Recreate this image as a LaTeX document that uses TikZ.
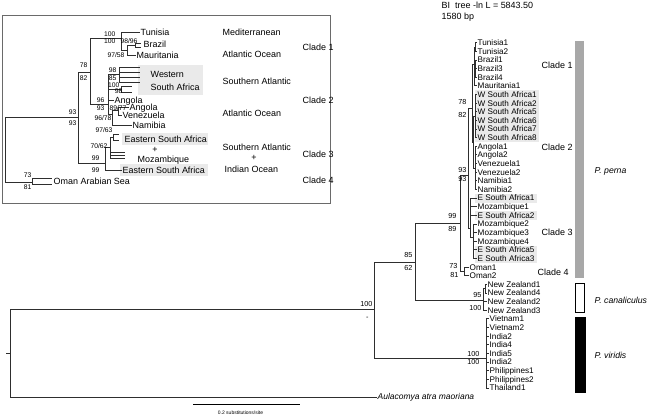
\documentclass[tikz,border=0pt]{standalone}
\usepackage{fontspec}
\setmainfont{Liberation Sans}
\usetikzlibrary{positioning}
\definecolor{cBar}{HTML}{A8A8A8}
\definecolor{cHi}{HTML}{EAEAEA}
\definecolor{cLine}{HTML}{2E2E2E}
\definecolor{cFrame}{HTML}{6A6A6A}

\begin{document}
\begin{tikzpicture}[x=1bp, y=-1bp,
  br/.style={draw=cLine, line width=0.8bp},
  tip/.style={anchor=west, inner sep=0.5bp, text height=5.9bp, text depth=0bp, font=\fontsize{8.2}{9}\selectfont},
  itip/.style={anchor=west, inner sep=0.5bp, text height=6.5bp, text depth=0bp, font=\fontsize{9}{10}\selectfont},
  spc/.style={itip, font=\fontsize{8.7}{10}\selectfont\itshape},
  bs/.style={anchor=east, inner sep=0.3bp, text height=5.3bp, text depth=0bp, font=\fontsize{7.3}{8}\selectfont},
  ibs/.style={bs, text height=4.9bp, font=\fontsize{6.8}{7}\selectfont},
  hi/.style={fill=cHi, draw=none}
]
\useasboundingbox (0,0) rectangle (650,417);

% ---------- main tree ----------
\node[itip] (hdr) at (441,5.5) {BI\ \ tree -ln L = 5843.50};
\node[itip] (hdrbp) at (441,16.5) {1580 bp};

\fill[hi] (475,90) rectangle (539,142);
\fill[hi] (475,193.5) rectangle (537,202.5);
\fill[hi] (475,211) rectangle (537,219.5);
\fill[hi] (475,245.5) rectangle (537,263);

\coordinate (rs) at (6,353);
\coordinate (r) at (10,353);
\coordinate (nIng) at (374,309.5);
\coordinate (nPC) at (415,262);
\coordinate (nPerna) at (460,223);
\coordinate (nC123) at (468,175);
\coordinate (nC12) at (472,108);
\coordinate (nC1) at (474,64);
\coordinate (nTun) at (475.5,47);
\coordinate (nBra) at (475.5,68.6);
\coordinate (nC2) at (473.5,142);
\coordinate (nWSA) at (475,116);
\coordinate (nAVN) at (475,168);
\coordinate (nC3) at (470,228);
\coordinate (nMoz) at (473,237);
\coordinate (nOman) at (464,271.4);
\coordinate (nNZ) at (483,300);
\coordinate (nNZa) at (485,288.6);
\coordinate (nVir) at (486,358);

\foreach \i/\lab in {0/Tunisia1,1/Tunisia2,2/Brazil1,3/Brazil3,4/Brazil4,5/Mauritania1,
  6/W South Africa1,7/W South Africa2,8/W South Africa5,9/W South Africa6,10/W South Africa7,
  11/W South Africa8,12/Angola1,13/Angola2,14/Venezuela1,15/Venezuela2,16/Namibia1,17/Namibia2,
  18/E South Africa1,19/Mozambique1,20/E South Africa2,21/Mozambique2,22/Mozambique3,
  23/Mozambique4,24/E South Africa5,25/E South Africa3}
  \node[tip] (t\i) at (477,{42.7+8.63*\i}) {\lab};
\foreach \i/\lab in {26/Oman1,27/Oman2}
  \node[tip] (t\i) at (469,{42.7+8.63*\i}) {\lab};
\foreach \i/\lab in {28/New Zealand1,29/New Zealand4,30/New Zealand2,31/New Zealand3}
  \node[tip] (t\i) at (487,{42.7+8.63*\i}) {\lab};
\foreach \i/\lab in {32/Vietnam1,33/Vietnam2,34/India2,35/India4,36/India5,37/India2,
  38/Philippines1,39/Philippines2,40/Thailand1}
  \node[tip] (t\i) at (489,{42.7+8.63*\i}) {\lab};
\node[tip, font=\fontsize{8.5}{10}\selectfont\itshape] (aul) at (377,397) {Aulacomya atra maoriana};

\draw[br] (rs) -- (r);
\draw[br] (r) |- (nIng);
\draw[br] (r) |- (aul.west);
\draw[br] (nIng) |- (nPC);
\draw[br] (nIng) |- (nVir);
\draw[br] (nPC) |- (nPerna);
\draw[br] (nPC) |- (nNZ);
\draw[br] (nPerna) |- (nC123);
\draw[br] (nPerna) |- (nOman);
\draw[br] (nC123) |- (nC12);
\draw[br] (nC123) |- (nC3);
\draw[br] (nC12) |- (nC1);
\draw[br] (nC12) |- (nC2);
\draw[br] (nC1) |- (nTun);
\draw[br] (nC1) |- (nBra);
\draw[br] (nC1) |- (t5.west);
\foreach \i in {0,1} \draw[br] (nTun) |- (t\i.west);
\foreach \i in {2,3,4} \draw[br] (nBra) |- (t\i.west);
\draw[br] (nC2) |- (nWSA);
\draw[br] (nC2) |- (nAVN);
\foreach \i in {6,...,11} \draw[br] (nWSA) |- (t\i.west);
\foreach \i in {12,...,17} \draw[br] (nAVN) |- (t\i.west);
\foreach \i in {18,19,20} \draw[br] (nC3) |- (t\i.west);
\draw[br] (nC3) |- (nMoz);
\foreach \i in {21,...,25} \draw[br] (nMoz) |- (t\i.west);
\foreach \i in {26,27} \draw[br] (nOman) |- (t\i.west);
\draw[br] (nNZ) |- (nNZa);
\foreach \i in {28,29} \draw[br] (nNZa) |- (t\i.west);
\foreach \i in {30,31} \draw[br] (nNZ) |- (t\i.west);
\foreach \i in {32,...,40} \draw[br] (nVir) |- (t\i.west);

% support values
\node[bs] (bIngA) at (373,304) {100};
\node[bs] (bIngB) at (369,317) {-};
\node[bs] (bPCA) at (413,255) {85};
\node[bs] (bPCB) at (413,268) {62};
\node[bs] (bPerA) at (457,216) {99};
\node[bs] (bPerB) at (457,229) {89};
\node[bs] (bC123A) at (467,170) {93};
\node[bs] (bC123B) at (467,179) {93};
\node[bs] (bC12A) at (467,102) {78};
\node[bs] (bC12B) at (467,115) {82};
\node[bs] (bOmA) at (458,266) {73};
\node[bs] (bOmB) at (459,275) {81};
\node[bs] (bNZA) at (482,295) {95};
\node[bs] (bNZB) at (482,308) {100};
\node[bs] (bVirA) at (480,354) {100};
\node[bs] (bVirB) at (480,362) {100};

\node[itip] (cl1) at (541,65) {Clade 1};
\node[itip] (cl2) at (541,147) {Clade 2};
\node[itip] (cl3) at (541,232) {Clade 3};
\node[itip] (cl4) at (537,272) {Clade 4};

\fill[cBar] (575,41) rectangle (584,278);
\draw[black, line width=0.8bp, fill=white] (575,283) rectangle (584,312);
\fill[black] (575,317) rectangle (586,393);
\node[spc] (spPer) at (594,170) {P. perna};
\node[spc] (spCan) at (594,300) {P. canaliculus};
\node[spc] (spVir) at (594,355) {P. viridis};

\coordinate (sb1) at (193,404);
\coordinate (sb2) at (300,404);
\draw[black, line width=0.9bp] (sb1) -- (sb2);
\node[font=\fontsize{5}{6}\selectfont, inner sep=0pt] (sbl) at (240.5,413) {0.2 substitutions/site};

% ---------- inset ----------
\draw[cFrame, line width=0.9bp] (2,15) rectangle (330,203);
\fill[hi] (138,65) rectangle (203,95);
\fill[hi] (122,133) rectangle (208,145);
\fill[hi] (120,164) rectangle (208,176);

\coordinate (iR) at (5,149.5);
\coordinate (iN123) at (78,117);
\coordinate (iOman) at (32,182);
\coordinate (iN12) at (90,72);
\coordinate (iC3) at (105,163);
\coordinate (iC1) at (121,38);
\coordinate (iC2) at (108,104);
\coordinate (iBM) at (127,50);
\coordinate (iBz) at (135,45);
\coordinate (iWSA) at (119,74);
\coordinate (iWSB) at (121,89);
\coordinate (iAVN) at (112,114);
\coordinate (iAV) at (118,110);
\coordinate (i7062) at (110,147);
\coordinate (i9763) at (113,137);

\node[itip] (iTun) at (140,32) {Tunisia};
\node[itip] (iBra) at (143,44) {Brazil};
\node[itip] (iMau) at (136,55.5) {Mauritania};
\node[itip] (iWes) at (150,74) {Western};
\node[itip] (iSou) at (150,87) {South Africa};
\node[itip] (iAng1) at (114,100) {Angola};
\node[itip] (iAng2) at (129,107.5) {Angola};
\node[itip] (iVen) at (122,115.5) {Venezuela};
\node[itip] (iNam) at (132,125) {Namibia};
\node[itip] (iESA1) at (124,139) {Eastern South Africa};
\node[itip, anchor=center] (iPlus) at (155,149) {+};
\node[itip] (iMoz) at (137,159) {Mozambique};
\node[itip] (iESA2) at (122,170) {Eastern South Africa};
\node[itip] (iOmT) at (53,181) {Oman Arabian Sea};

\draw[br] (iR) |- (iN123);
\draw[br] (iR) |- (iOman);
\draw[br] (iN123) |- (iN12);
\draw[br] (iN123) |- (iC3);
\draw[br] (iN12) |- (iC1);
\draw[br] (iN12) |- (iC2);
\draw[br] (iC1) |- (iTun.west);
\draw[br] (iC1) |- (iBM);
\draw[br] (iBM) |- (iBz);
\draw[br] (iBM) |- (iMau.west);
\foreach \y in {43,47} \draw[br] (iBz) |- (141,\y);
\draw[br] (iC2) |- (iWSA);
\draw[br] (iC2) |- (iWSB);
\draw[br] (iC2) |- (iAng1.west);
\draw[br] (iC2) |- (iAVN);
\foreach \y in {67,72,77,82} \draw[br] (iWSA) |- (140,\y);
\foreach \y in {86,92} \draw[br] (iWSB) |- (132,\y);
\draw[br] (iAVN) |- (iAV);
\draw[br] (iAVN) |- (iNam.west);
\draw[br] (iAV) |- (iAng2.west);
\draw[br] (iAV) |- (iVen.west);
\draw[br] (iC3) |- (i7062);
\draw[br] (iC3) |- (iESA2.west);
\draw[br] (i7062) |- (i9763);
\foreach \y in {152,155,158} \draw[br] (i7062) |- (125,\y);
\foreach \y in {134,140} \draw[br] (i9763) |- (119,\y);
\foreach \y in {178.5,184} \draw[br] (iOman) |- (52,\y);

\node[ibs] (ib1) at (77,112) {93};
\node[ibs] (ib2) at (77,123) {93};
\node[ibs] (ib3) at (32,175) {73};
\node[ibs] (ib4) at (32,187) {81};
\node[ibs] (ib5) at (88,65) {78};
\node[ibs] (ib6) at (88,78) {82};
\node[ibs] (ib7a) at (116,34.5) {100};
\node[ibs] (ib7) at (116,41.5) {100};
\node[ibs] (ib8) at (138,41) {98/96};
\node[ibs] (ib9) at (125,55.5) {97/58};
\node[ibs] (ib10) at (117,70) {98};
\node[ibs] (ib11) at (117,78) {85};
\node[ibs] (ib12) at (120,85.5) {100};
\node[ibs] (ib13) at (123,91.5) {98};
\node[ibs] (ib14) at (105,100) {96};
\node[ibs] (ib15) at (105,108) {93};
\node[ibs] (ib16) at (127,108) {89/77};
\node[ibs] (ib17) at (112,118) {96/78};
\node[ibs] (ib18) at (113,130) {97/63};
\node[ibs] (ib19) at (108,146) {70/62};
\node[ibs] (ib20) at (100,158) {99};
\node[ibs] (ib21) at (100,170) {99};

\node[itip] (g1) at (222,32) {Mediterranean};
\node[itip] (g2) at (222,54) {Atlantic Ocean};
\node[itip] (g3) at (222,81) {Southern Atlantic};
\node[itip] (g4) at (222,113) {Atlantic Ocean};
\node[itip] (g5) at (222,147) {Southern Atlantic};
\node[itip, anchor=center] (g6) at (254,157) {+};
\node[itip] (g7) at (224,169) {Indian Ocean};

\node[itip] (ic1) at (302,47) {Clade 1};
\node[itip] (ic2) at (302,100) {Clade 2};
\node[itip] (ic3) at (302,154) {Clade 3};
\node[itip] (ic4) at (302,180) {Clade 4};
\end{tikzpicture}
\end{document}
